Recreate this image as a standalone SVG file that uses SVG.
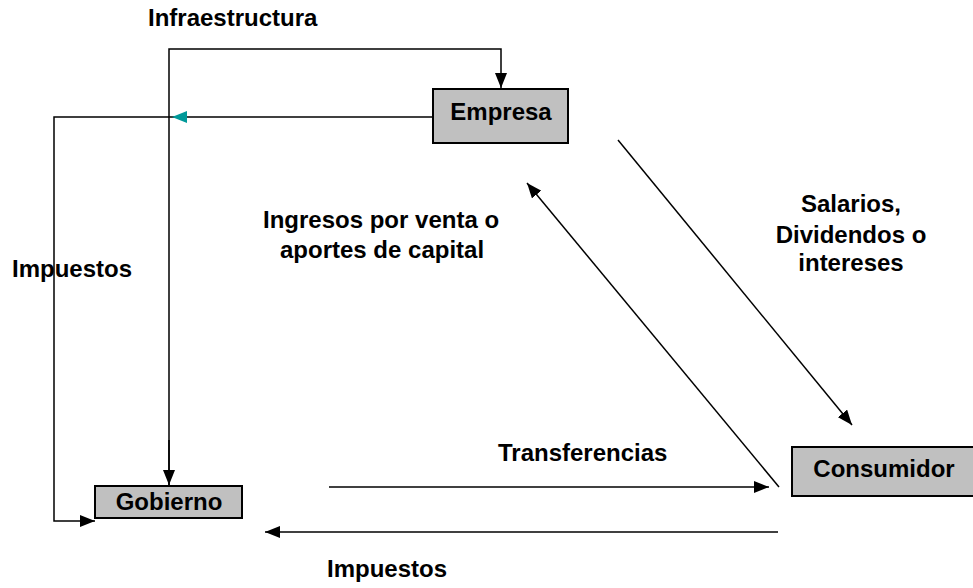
<svg xmlns="http://www.w3.org/2000/svg" width="973" height="588" viewBox="0 0 973 588">
<style>
.box{fill:#c0c0c0;stroke:#000;stroke-width:2}
.t{font-family:"Liberation Sans",Arial,sans-serif;font-weight:bold;font-size:24px;fill:#000}
.c{stroke:#000;stroke-width:1.5;fill:none}
</style>
<defs>
<marker id="ah" markerWidth="16" markerHeight="12" refX="15" refY="6" orient="auto" markerUnits="userSpaceOnUse"><path d="M0,0 L15,6 L0,12 Z" fill="#000"/></marker>
<marker id="ahT" markerWidth="16" markerHeight="12" refX="15" refY="6" orient="auto" markerUnits="userSpaceOnUse"><path d="M0,0 L15,6 L0,12 Z" fill="#009999"/></marker>
</defs>
<rect width="973" height="588" fill="#fff"/>
<g id="connectors">
<polyline class="c" points="169,486 169,49 501,49 501,88" marker-end="url(#ah)"/>
<line class="c" x1="169" y1="440" x2="169" y2="485" marker-end="url(#ah)"/>
<line class="c" x1="433" y1="117" x2="172" y2="117" marker-end="url(#ahT)"/>
<polyline class="c" points="172,117 54,117 54,521 95,521" marker-end="url(#ah)"/>
<line class="c" x1="618" y1="140" x2="852" y2="425" marker-end="url(#ah)"/>
<line class="c" x1="779" y1="487" x2="527" y2="183" marker-end="url(#ah)"/>
<line class="c" x1="329" y1="487" x2="769" y2="487" marker-end="url(#ah)"/>
<line class="c" x1="778" y1="532" x2="265" y2="532" marker-end="url(#ah)"/>
</g>
<g id="empresa"><rect class="box" x="433" y="89" width="135" height="54"/><text class="t" x="501" y="120" text-anchor="middle">Empresa</text></g>
<g id="gobierno"><rect class="box" x="95" y="486" width="147" height="32"/><text class="t" x="169" y="510" text-anchor="middle">Gobierno</text></g>
<g id="consumidor"><rect class="box" x="792" y="447" width="183" height="49"/><text class="t" x="884" y="477" text-anchor="middle">Consumidor</text></g>
<g id="labels">
<text class="t" x="148" y="26">Infraestructura</text>
<text class="t" x="12" y="277">Impuestos</text>
<text class="t" x="263" y="228">Ingresos por venta o</text>
<text class="t" x="280" y="258">aportes de capital</text>
<text class="t" x="851" y="212" text-anchor="middle">Salarios,</text>
<text class="t" x="851" y="243" text-anchor="middle">Dividendos o</text>
<text class="t" x="851" y="271" text-anchor="middle">intereses</text>
<text class="t" x="498" y="461">Transferencias</text>
<text class="t" x="327" y="577">Impuestos</text>
</g>
</svg>
